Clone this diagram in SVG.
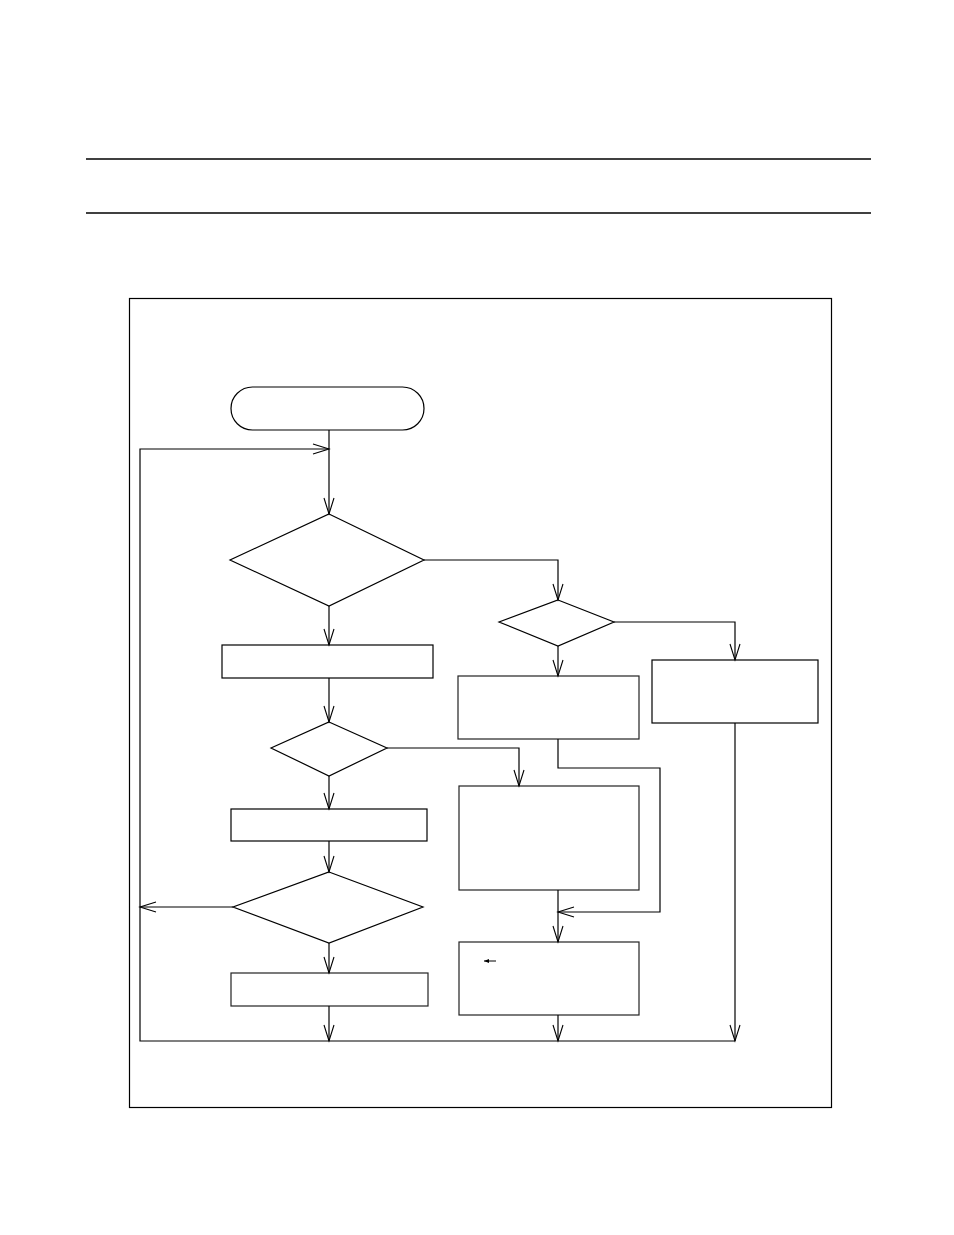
<svg xmlns="http://www.w3.org/2000/svg" width="954" height="1235" viewBox="0 0 954 1235">
<style>
.n{fill:#fff;stroke:#000;stroke-width:1.2}
.g{fill:#fff;stroke:#222;stroke-width:1.2}
.c{fill:none;stroke:#000;stroke-width:1.2}
.r{stroke:#000;stroke-width:1.5}
</style>
<defs>
<marker id="a" markerUnits="userSpaceOnUse" markerWidth="20" markerHeight="14" viewBox="-17 -7 20 14" refX="0" refY="0" orient="auto">
<path d="M-16,-5 L0,0 L-16,5" fill="none" stroke="#000" stroke-width="1.1"/>
</marker>
<marker id="s" markerUnits="userSpaceOnUse" markerWidth="8" markerHeight="6" viewBox="-6 -3 8 6" refX="0" refY="0" orient="auto">
<path d="M-5,-2 L0,0 L-5,2 Z" fill="#000"/>
</marker>
</defs>
<g id="rules">
<line class="r" x1="86" y1="159" x2="871" y2="159"/>
<line class="r" x1="86" y1="213" x2="871" y2="213"/>
</g>
<g id="frame"><rect x="129.5" y="298.5" width="702" height="809" fill="none" stroke="#000" stroke-width="1.2"/></g>
<g id="start"><rect class="n" x="231" y="387" width="193" height="43" rx="21.5"/></g>
<g id="d1"><polygon class="n" points="329,514 424,560 329,606 230,560"/></g>
<g id="p1"><rect class="n" x="222" y="645" width="211" height="33"/></g>
<g id="d3"><polygon class="n" points="329,722 387,748 329,776 271,748"/></g>
<g id="p3"><rect class="n" x="231" y="809" width="196" height="32"/></g>
<g id="d4"><polygon class="n" points="329,872 423,907 329,943 233,907"/></g>
<g id="p5"><rect class="g" x="231" y="973" width="197" height="33"/></g>
<g id="d2"><polygon class="n" points="558,600 614,622 558,646 499,622"/></g>
<g id="p2"><rect class="g" x="458" y="676" width="181" height="63"/></g>
<g id="p6"><rect class="n" x="652" y="660" width="166" height="63"/></g>
<g id="p4"><rect class="g" x="459" y="786" width="180" height="104"/></g>
<g id="p7"><rect class="g" x="459" y="942" width="180" height="73"/>
<line x1="496" y1="961" x2="484" y2="961" stroke="#000" stroke-width="1" marker-end="url(#s)"/></g>
<g id="connectors">
<path class="c" d="M329,430 V514" marker-end="url(#a)"/>
<path class="c" d="M329,1041 H140 V449 H329" marker-end="url(#a)"/>
<path class="c" d="M424,560 H558 V600" marker-end="url(#a)"/>
<path class="c" d="M329,606 V645" marker-end="url(#a)"/>
<path class="c" d="M614,622 H735 V660" marker-end="url(#a)"/>
<path class="c" d="M558,646 V676" marker-end="url(#a)"/>
<path class="c" d="M329,678 V722" marker-end="url(#a)"/>
<path class="c" d="M387,748 H519 V786" marker-end="url(#a)"/>
<path class="c" d="M329,776 V809" marker-end="url(#a)"/>
<path class="c" d="M329,841 V872" marker-end="url(#a)"/>
<path class="c" d="M233,907 H140" marker-end="url(#a)"/>
<path class="c" d="M329,943 V973" marker-end="url(#a)"/>
<path class="c" d="M329,1006 V1041" marker-end="url(#a)"/>
<path class="c" d="M558,739 V768 H660 V912 H558" marker-end="url(#a)"/>
<path class="c" d="M558,890 V942" marker-end="url(#a)"/>
<path class="c" d="M558,1015 V1041" marker-end="url(#a)"/>
<path class="c" d="M735,723 V1041" marker-end="url(#a)"/>
<path class="c" d="M329,1041 H735"/>
</g>
</svg>
